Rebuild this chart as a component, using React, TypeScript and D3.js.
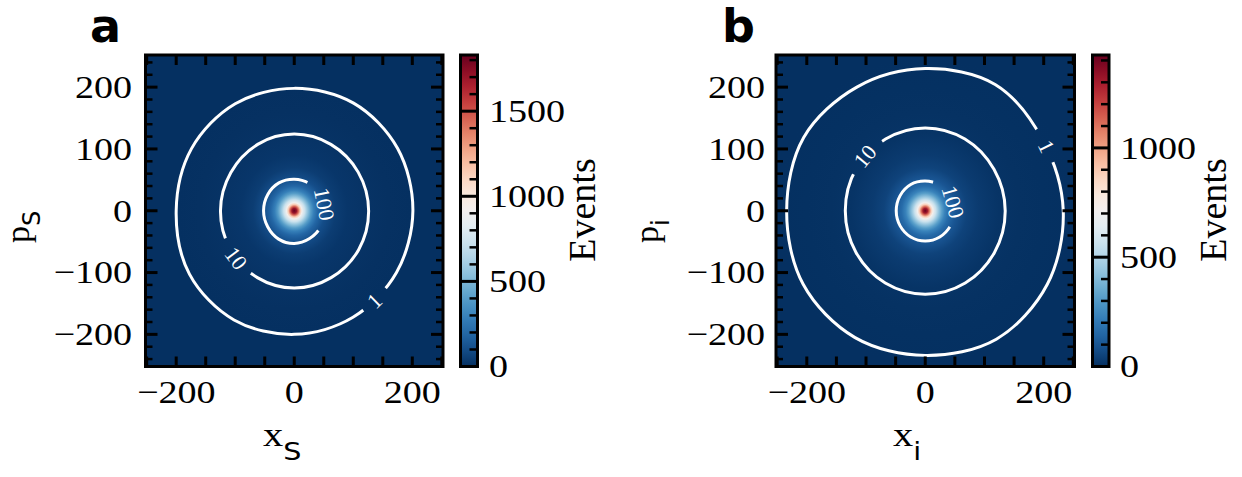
import React from 'react';
import * as d3 from 'd3';

const W = 1242;
const H = 477;

// ---- data ----
const panelLetters = ['a', 'b'];
const axisSubscripts = ['S', 'i'];
const colorMax = [1830, 1425];
const colorbarMajor = [[0, 500, 1000, 1500], [0, 500, 1000]];
const colorbarMinorStep = 100;

const axisTickLabels = [-200, 0, 200];
const yMajorTicks = [-200, -100, 0, 100, 200];
const xTickStep = 50;
const yMinorStep = 20;
const axisExtent = 252;

// radial profile of the 2D histogram (radius in axis units → events per bin)
const profileRadius = [0, 4, 7, 10, 13, 18, 22, 28, 33, 40, 52, 70, 90, 125, 160, 200, 252];
const profileEventsA = [1830, 1700, 1450, 1150, 920, 720, 570, 400, 290, 190, 100, 45, 22, 10, 3.5, 1, 0.2];
const profileEventsB = [1425, 1300, 1100, 880, 720, 560, 450, 320, 235, 160, 100, 50, 28, 10, 4.5, 1.6, 0.6];

// contour levels and their radii sampled every 30 degrees
const contourLevels = [1, 10, 100];
const contourAngles = [0, 30, 60, 90, 120, 150, 180, 210, 240, 270, 300, 330];
const contourRadiiA = [
  [201, 202, 201, 198, 200, 201, 200, 205, 204, 200, 199, 200],
  [126, 125, 124, 124, 124, 124, 125, 125, 125, 125, 125, 126],
  [52, 52, 51, 51, 52, 52, 52, 52, 53, 53, 52, 52],
];
const contourRadiiB = [
  [233, 229, 236, 230, 231, 237, 234, 238, 237, 234, 240, 238],
  [135, 134, 134, 134, 134, 135, 135, 135, 135, 135, 135, 135],
  [49, 49, 48, 48, 49, 49, 49, 49, 49, 49, 49, 49],
];
// inline label angle and the gap cut out of each contour (degrees)
const labelAngleA = [-47, 218, 12];
const gapA = [[-54, -39], [201, 234], [-38, 64]];
const labelAngleB = [27, 139, 17];
const gapB = [[20, 35], [123, 154], [-32, 74]];

// ---- layout ----
const plotTop = 55;
const plotBottom = 366.5;
const panels = [
  { left: 145.5, right: 443, cbL: 460.5, cbR: 477.5, letterX: 90, yLabX: 132, cbLabX: 489, evX: 595,
    axX: 263, pX: 29, radii: contourRadiiA, labelAngle: labelAngleA, gap: gapA, profile: profileEventsA },
  { left: 776, right: 1074.5, cbL: 1092.5, cbR: 1109, letterX: 722, yLabX: 765, cbLabX: 1120, evX: 1226,
    axX: 893, pX: 658, radii: contourRadiiB, labelAngle: labelAngleB, gap: gapB, profile: profileEventsB },
];

const SERIF = 'Liberation Serif';
const STRETCH = 1.19;
const rad = (d: number) => (d * Math.PI) / 180;

function WideText(props: { x: number; y: number; anchor?: string; size: number; dy?: string; children: React.ReactNode; family?: string }) {
  const { x, y, anchor = 'start', size, dy, children, family = SERIF } = props;
  return (
    <text transform={`translate(${x},${y}) scale(${STRETCH},1)`} textAnchor={anchor} fontSize={size} dy={dy}
      fontFamily={family} fill="#000">
      {children}
    </text>
  );
}

const fmt = (v: number) => (v < 0 ? '\u2212' + Math.abs(v) : String(v));

function Panel({ idx }: { idx: number }) {
  const p = panels[idx];
  const vmax = colorMax[idx];
  const x = d3.scaleLinear().domain([-axisExtent, axisExtent]).range([p.left, p.right]);
  const y = d3.scaleLinear().domain([-axisExtent, axisExtent]).range([plotBottom, plotTop]);
  const color = d3.scaleSequential((t: number) => d3.interpolateRdBu(1 - t)).domain([0, vmax]);
  const cy = d3.scaleLinear().domain([0, vmax]).range([plotBottom, plotTop]);
  const kx = (p.right - p.left) / (2 * axisExtent);
  const ky = (plotBottom - plotTop) / (2 * axisExtent);
  const id = `p${idx}`;
  const Rmax = profileRadius[profileRadius.length - 1];

  const xTicks = x.ticks((2 * axisExtent) / xTickStep).filter((v) => v % xTickStep === 0);
  const yMinor = y.ticks((2 * axisExtent) / yMinorStep).filter((v) => v % 100 !== 0);
  const cbMinor = cy.ticks(vmax / colorbarMinorStep).filter((v) => v % 500 !== 0);

  const line = d3.line().curve(d3.curveCatmullRomClosed.alpha(0.5));

  const contours = contourLevels.map((lvl, ci) => {
    const rs = p.radii[ci];
    const pts = contourAngles.map((a, i) => [x(rs[i] * Math.cos(rad(a))), y(rs[i] * Math.sin(rad(a)))] as [number, number]);
    const d = line(pts) as string;
    const [g0, g1] = p.gap[ci];
    const R = d3.max(rs)! * 1.8;
    const gm = (g0 + g1) / 2;
    const wedge = [[0, 0], [R * Math.cos(rad(g0)), R * Math.sin(rad(g0))], [R * Math.cos(rad(gm)), R * Math.sin(rad(gm))],
      [R * Math.cos(rad(g1)), R * Math.sin(rad(g1))]].map(([u, v]) => `${x(u)},${y(v)}`).join(' ');
    // label placement on the contour
    const la = p.labelAngle[ci];
    const norm = ((la % 360) + 360) % 360;
    const i0 = Math.floor(norm / 30) % 12;
    const i1 = (i0 + 1) % 12;
    const f = (norm - i0 * 30) / 30;
    const rl = rs[i0] * (1 - f) + rs[i1] * f;
    const lx = x(rl * Math.cos(rad(la)));
    const ly = y(rl * Math.sin(rad(la)));
    let rot = (Math.atan2(-ky * Math.cos(rad(la)), -kx * Math.sin(rad(la))) * 180) / Math.PI;
    if (rot > 90) rot -= 180;
    if (rot <= -90) rot += 180;
    return { lvl, d, wedge, lx, ly, rot, ci };
  });

  const sub = axisSubscripts[idx];

  return (
    <g>
      <defs>
        <clipPath id={`${id}-clip`}>
          <rect x={p.left} y={plotTop} width={p.right - p.left} height={plotBottom - plotTop} />
        </clipPath>
        <radialGradient id={`${id}-heat`}>
          {profileRadius.map((r, i) => (
            <stop key={i} offset={r / Rmax} stopColor={color(p.profile[i])} />
          ))}
        </radialGradient>
        <linearGradient id={`${id}-cbar`} x1="0" y1="1" x2="0" y2="0">
          {d3.range(0, 1.0001, 0.05).map((t, i) => (
            <stop key={i} offset={t} stopColor={d3.interpolateRdBu(1 - t)} />
          ))}
        </linearGradient>
        {contours.map((c) => (
          <mask id={`${id}-m${c.ci}`} key={c.ci} maskUnits="userSpaceOnUse" x={0} y={0} width={W} height={H}>
            <rect x={0} y={0} width={W} height={H} fill="white" />
            <polygon points={c.wedge} fill="black" />
          </mask>
        ))}
      </defs>

      {/* 2D histogram */}
      <g clipPath={`url(#${id}-clip)`}>
        <rect x={p.left} y={plotTop} width={p.right - p.left} height={plotBottom - plotTop} fill={color(0)} />
        <ellipse cx={x(0)} cy={y(0)} rx={kx * Rmax} ry={ky * Rmax} fill={`url(#${id}-heat)`} />
        {contours.map((c) => (
          <path key={c.ci} d={c.d} fill="none" stroke="white" strokeWidth={3} mask={`url(#${id}-m${c.ci})`} />
        ))}
        {contours.map((c) => (
          <text key={c.ci} transform={`translate(${c.lx},${c.ly}) rotate(${c.rot})`} textAnchor="middle" dy="0.34em"
            fontFamily={SERIF} fontSize={22} fill="white">
            {c.lvl}
          </text>
        ))}
      </g>

      {/* ticks, inward on all sides */}
      <g stroke="#000">
        {xTicks.map((v) => (
          <g key={`xt${v}`} strokeWidth={3}>
            <line x1={x(v)} x2={x(v)} y1={plotBottom} y2={plotBottom - 10} />
            <line x1={x(v)} x2={x(v)} y1={plotTop} y2={plotTop + 10} />
          </g>
        ))}
        {yMajorTicks.map((v) => (
          <g key={`yt${v}`} strokeWidth={3}>
            <line x1={p.left} x2={p.left + 12} y1={y(v)} y2={y(v)} />
            <line x1={p.right} x2={p.right - 12} y1={y(v)} y2={y(v)} />
          </g>
        ))}
        {yMinor.map((v) => (
          <g key={`ym${v}`} strokeWidth={2.5}>
            <line x1={p.left} x2={p.left + 7} y1={y(v)} y2={y(v)} />
            <line x1={p.right} x2={p.right - 7} y1={y(v)} y2={y(v)} />
          </g>
        ))}
      </g>
      <rect x={p.left} y={plotTop} width={p.right - p.left} height={plotBottom - plotTop} fill="none" stroke="#000" strokeWidth={3} />

      {/* tick labels */}
      {axisTickLabels.map((v) => (
        <WideText key={`xl${v}`} x={x(v)} y={403} anchor="middle" size={32}>{fmt(v)}</WideText>
      ))}
      {yMajorTicks.map((v) => (
        <WideText key={`yl${v}`} x={p.yLabX} y={y(v)} anchor="end" size={32} dy="0.34em">{fmt(v)}</WideText>
      ))}

      {/* axis labels */}
      <text transform={`translate(${p.axX},446) scale(${STRETCH},1)`} fontSize={34} fontFamily={SERIF}>
        x<tspan fontFamily="DejaVu Sans" fontSize={24} dy={14}>{sub}</tspan>
      </text>
      <text transform={`translate(${p.pX},243) rotate(-90)`} fontSize={34} fontFamily={SERIF}>
        p<tspan fontFamily="DejaVu Sans" fontSize={24} dy={11}>{sub}</tspan>
      </text>

      {/* panel letter */}
      <text x={p.letterX} y={42} fontFamily="DejaVu Sans" fontWeight="bold" fontSize={46}>{panelLetters[idx]}</text>

      {/* colorbar */}
      <rect x={p.cbL} y={plotTop} width={p.cbR - p.cbL} height={plotBottom - plotTop} fill={`url(#${id}-cbar)`} />
      <g stroke="#000">
        {cbMinor.map((v) => (
          <line key={`cm${v}`} x1={p.cbR} x2={p.cbR - 8} y1={cy(v)} y2={cy(v)} strokeWidth={2.5} />
        ))}
        {colorbarMajor[idx].map((v) => (
          <line key={`cM${v}`} x1={p.cbL} x2={p.cbR} y1={cy(v)} y2={cy(v)} strokeWidth={3} />
        ))}
      </g>
      <rect x={p.cbL} y={plotTop} width={p.cbR - p.cbL} height={plotBottom - plotTop} fill="none" stroke="#000" strokeWidth={3} />
      {colorbarMajor[idx].map((v) => (
        <WideText key={`cl${v}`} x={p.cbLabX} y={cy(v)} size={32} dy="0.34em">{String(v)}</WideText>
      ))}
      <text transform={`translate(${p.evX},210) rotate(-90)`} textAnchor="middle" fontFamily={SERIF} fontSize={38}>Events</text>
    </g>
  );
}

export default function App() {
  return (
    <svg width={W} height={H} viewBox={`0 0 ${W} ${H}`} style={{ display: 'block', position: 'absolute', left: 0, top: 0, background: '#fff' }}>
      <rect width={W} height={H} fill="#fff" />
      <Panel idx={0} />
      <Panel idx={1} />
    </svg>
  );
}
